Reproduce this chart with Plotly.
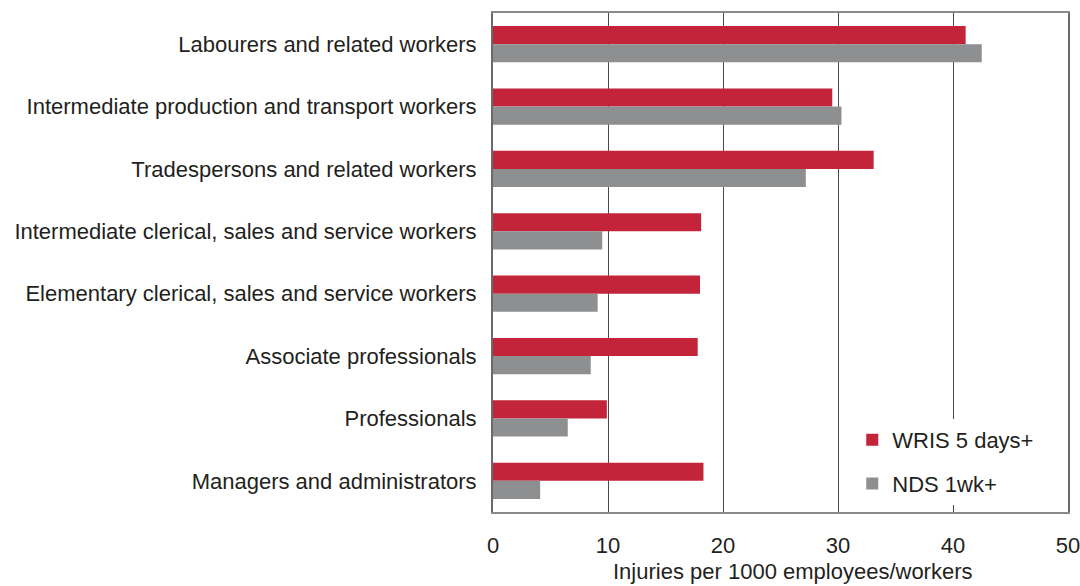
import plotly.graph_objects as go

# Occupation groups, listed top to bottom
occupations = [
    "Labourers and related workers",
    "Intermediate production and transport workers",
    "Tradespersons and related workers",
    "Intermediate clerical, sales and service workers",
    "Elementary clerical, sales and service workers",
    "Associate professionals",
    "Professionals",
    "Managers and administrators",
]

# Injury rates per 1000 employees/workers
wris_5days = [41.1, 29.5, 33.1, 18.1, 18.0, 17.8, 9.9, 18.3]
nds_1wk = [42.5, 30.3, 27.2, 9.5, 9.1, 8.5, 6.5, 4.1]

x_ticks = [0, 10, 20, 30, 40, 50]
x_title = "Injuries per 1000 employees/workers"

RED = "#c32439"
GREY = "#8e8f91"
TEXT = "#231f20"
FONT = "Liberation Sans, Arial, sans-serif"
FS = 22

fig = go.Figure()
fig.add_trace(go.Bar(
    y=occupations, x=wris_5days, orientation="h",
    name="WRIS 5 days+", marker=dict(color=RED, line=dict(width=0)),
    legendgroup="a",
))
fig.add_trace(go.Bar(
    y=occupations, x=nds_1wk, orientation="h",
    name="NDS 1wk+", marker=dict(color=GREY, line=dict(width=0)),
    legendgroup="b",
))

fig.update_layout(
    width=1080, height=586,
    margin=dict(l=493, r=12, t=13, b=74),
    paper_bgcolor="white", plot_bgcolor="white",
    barmode="group", bargap=0.42, bargroupgap=0,
    font=dict(family=FONT, size=FS, color=TEXT),
    showlegend=True,
    legend=dict(
        x=0.95, y=0.014, xanchor="right", yanchor="bottom",
        bgcolor="white", borderwidth=0,
        font=dict(family=FONT, size=FS, color=TEXT),
        traceorder="grouped", tracegroupgap=12,
        itemwidth=30,
    ),
)

# Axis title, set a little right of the plot centre
fig.add_annotation(
    text=x_title, xref="paper", yref="paper",
    x=0.522, y=-0.146, xanchor="center", yanchor="bottom",
    showarrow=False, borderpad=0,
    font=dict(family=FONT, size=FS, color=TEXT),
)

fig.update_xaxes(
    range=[0, 50], tickvals=x_ticks, ticktext=[str(v) for v in x_ticks],
    showgrid=True, gridcolor="#4a4a4a", gridwidth=1,
    zeroline=False, automargin=False, ticklabeloverflow="allow",
    showline=True, linecolor="#8a8a8a", linewidth=2, mirror=True,
    ticks="", ticklabelstandoff=13,
    tickfont=dict(family=FONT, size=FS, color=TEXT),
)
fig.update_yaxes(
    autorange="reversed",
    showgrid=False, zeroline=False, automargin=False,
    showline=True, linecolor="#6a6a6a", linewidth=2, mirror=True,
    ticks="", ticklabelstandoff=10,
    tickfont=dict(family=FONT, size=FS, color=TEXT),
)

fig.write_html("out.html")
